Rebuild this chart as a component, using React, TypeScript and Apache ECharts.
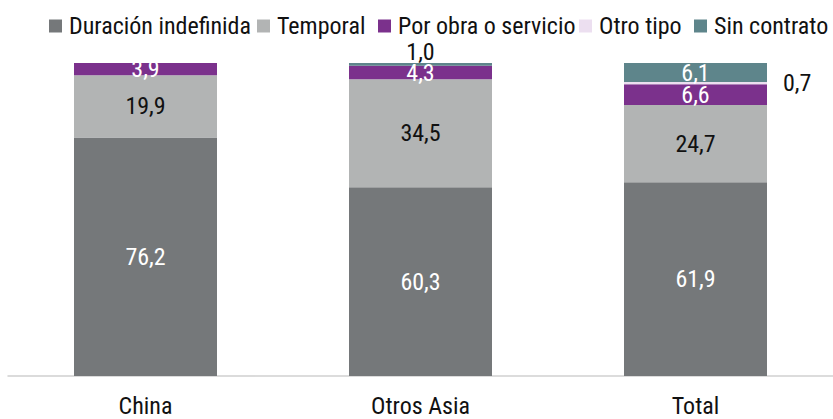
import React, { useEffect, useRef } from "react";
import * as echarts from "echarts";

const categories = ["China", "Otros Asia", "Total"];
const seriesNames = ["Duración indefinida", "Temporal", "Por obra o servicio", "Otro tipo", "Sin contrato"];
const duracion = [76.2, 60.3, 61.9];
const temporal = [19.9, 34.5, 24.7];
const porObra = [3.9, 4.3, 6.6];
const otroTipo = [null, null, 0.7];
const sinContrato = [null, 1.0, 6.1];

const colors = ["#75787a", "#b2b4b4", "#7b318c", "#ecdff0", "#5e858b"];
const labelColors = ["#ffffff", "#111111", "#ffffff", "#111111", "#ffffff"];
const legendLefts = [44, 252, 373, 574, 689];

const FONT = "Roboto Condensed";
const FS = 24;

const fmt = (v: number | null) => (v == null ? "" : v.toFixed(1).replace(".", ","));

export default function App() {
  const ref = useRef<HTMLDivElement>(null);
  useEffect(() => {
    if (!ref.current) return;
    const chart = echarts.init(ref.current, undefined, { renderer: "svg" });
    const allData = [duracion, temporal, porObra, otroTipo, sinContrato];
    const series = allData.map((arr, si) => ({
      name: seriesNames[si],
      type: "bar",
      stack: "total",
      barWidth: 143,
      itemStyle: { color: colors[si] },
      label: {
        show: true,
        position: "inside",
        color: labelColors[si],
        fontFamily: FONT,
        fontSize: FS,
        formatter: (p: any) => fmt(p.value as number | null),
      },
      data: arr.map((v, ci) => {
        if (v == null) return null;
        const item: any = { value: v };
        if (si === 4 && ci === 1) {
          item.label = { position: "top", color: "#111111", distance: -1 };
        }
        if (si === 3 && ci === 2) {
          item.label = { position: "right", color: "#111111", distance: 16 };
        }
        return item;
      }),
    }));
    const legends = seriesNames.map((n, i) => ({
      top: 9,
      left: legendLefts[i],
      itemWidth: 13,
      itemHeight: 13,
      icon: "rect",
      data: [n],
      textStyle: { fontFamily: FONT, fontSize: FS, color: "#111111", padding: [0, 0, 0, 2] },
    }));
    chart.setOption({
      animation: false,
      color: colors,
      legend: legends,
      grid: { left: 8, top: 63, width: 840, bottom: 43, containLabel: false },
      xAxis: {
        type: "category",
        data: categories,
        axisLine: { show: true, lineStyle: { color: "#d0d0d0", width: 1.5 } },
        axisTick: { show: false },
        axisLabel: { fontFamily: FONT, fontSize: FS, color: "#111111", margin: 21, lineHeight: 18 },
      },
      yAxis: { type: "value", min: 0, max: 100, show: false, splitLine: { show: false } },
      series,
    });
    return () => chart.dispose();
  }, []);
  return (
    <div style={{ position: "fixed", left: 0, top: 0, width: 833, height: 419, background: "#ffffff" }}>
      <style>{".st text { font-stretch: 75% !important; }"}</style>
      <div className="st" ref={ref} style={{ width: 833, height: 419 }} />
    </div>
  );
}
